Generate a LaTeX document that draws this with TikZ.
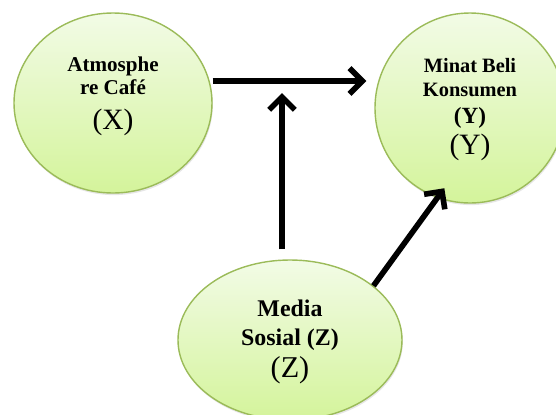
\documentclass[tikz,border=0pt]{standalone}
\usepackage{fontspec}
\setmainfont{Liberation Serif}
\usetikzlibrary{shapes.geometric, shadows, arrows.meta}
\definecolor{varline}{RGB}{155,187,89}
\definecolor{vartop}{RGB}{242,251,230}
\definecolor{varbottom}{RGB}{212,244,155}

\begin{document}
\begin{tikzpicture}[
        var/.style={ellipse, draw=varline, line width=1pt, top color=vartop, bottom color=varbottom,
            inner sep=0pt, drop shadow={opacity=0.2, shadow xshift=0.6pt, shadow yshift=-1.5pt}},
        arr/.style={line width=4pt, -{Straight Barb[length=3.2mm, width=6.4mm]}}
    ]
        \useasboundingbox (0,0) rectangle (13.9,-10.35);
        % variables
        \node [var, minimum width=4.95cm, minimum height=4.5cm] (atm) at (2.825,-2.575) {};
        \node [var, minimum width=4.75cm, minimum height=4.75cm] (minat) at (11.75,-2.7) {};
        \node [var, minimum width=5.6cm, minimum height=4cm] (media) at (7.25,-8.5) {};
        \node [align=center, font=\fontsize{15}{16.4}\selectfont\bfseries] (atmtext) at (2.825,-2.41)
            {Atmosphe\\re Café\\[8.5pt]{\fontsize{21}{21}\selectfont\mdseries (X)}};
        \node [align=center, font=\fontsize{14.5}{16.4}\selectfont\bfseries] (minattext) at (11.75,-2.74)
            {Minat Beli\\Konsumen\\[2.8pt]{\fontsize{16.5}{16.5}\selectfont (Y)}\\[3pt]{\fontsize{21}{21}\selectfont\mdseries (Y)}};
        \node [align=center, font=\fontsize{17}{20.6}\selectfont\bfseries] (mediatext) at (7.25,-8.54)
            {Media\\Sosial (Z)\\[2.2pt]{\fontsize{21.5}{21.5}\selectfont\mdseries (Z)}};
        % arrows
        \coordinate (junction) at (7.05,-2.025);
        \draw [arr, shorten >=0.2cm] (atm.east |- junction) -- (minat.west |- junction);
        \draw [arr, shorten <=0.25cm, shorten >=0.3cm] (media.north -| junction) -- (junction);
        \draw [arr, shorten >=-0.3cm] (media.33) -- (minat.250);
      \end{tikzpicture}
\end{document}
